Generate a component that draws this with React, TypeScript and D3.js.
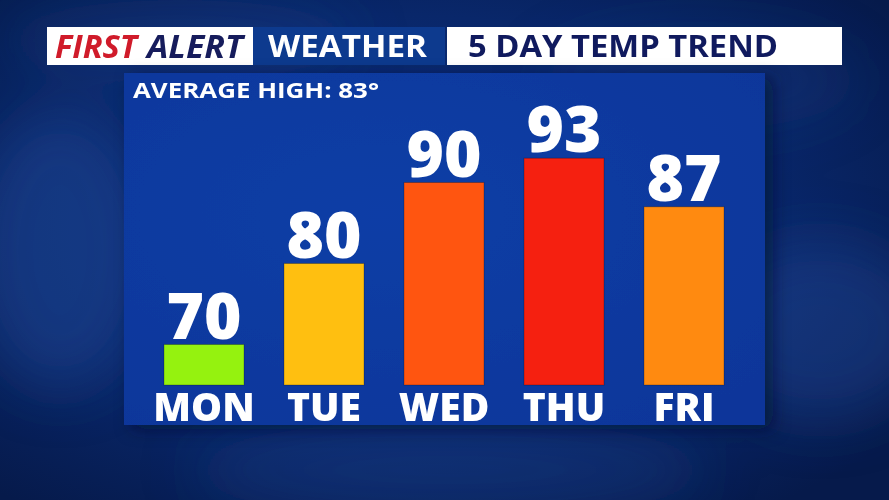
import { useRef, useEffect } from 'react';
import * as d3 from 'd3';

// chart data
const days = ['MON', 'TUE', 'WED', 'THU', 'FRI'];
const highs = [70, 80, 90, 93, 87];
const barColors = ['#95f20f', '#ffbf10', '#ff5510', '#f52010', '#ff8a10'];
const averageHigh = 83;

const W = 889;
const H = 500;

const App = () => {
    const ref = useRef<SVGSVGElement>(null);

    useEffect(() => {
        const svg = d3.select(ref.current);
        svg.selectAll('*').remove();
        svg.attr('viewBox', [0, 0, W, H]).attr('width', W).attr('height', H);

        const defs = svg.append('defs');
        const bg = defs.append('radialGradient').attr('id', 'bg-grad')
            .attr('cx', '45%').attr('cy', '45%').attr('r', '70%');
        bg.append('stop').attr('offset', '0%').attr('stop-color', '#0c3283');
        bg.append('stop').attr('offset', '60%').attr('stop-color', '#09276a');
        bg.append('stop').attr('offset', '100%').attr('stop-color', '#061a4b');

        const panelGrad = defs.append('radialGradient').attr('id', 'panel-grad')
            .attr('cx', '40%').attr('cy', '40%').attr('r', '75%');
        panelGrad.append('stop').attr('offset', '0%').attr('stop-color', '#0a3ea6');
        panelGrad.append('stop').attr('offset', '100%').attr('stop-color', '#07369a');

        const blur = defs.append('filter').attr('id', 'cloud-blur')
            .attr('x', '-50%').attr('y', '-50%').attr('width', '200%').attr('height', '200%');
        blur.append('feGaussianBlur').attr('stdDeviation', 28);

        const shadow = defs.append('filter').attr('id', 'panel-shadow')
            .attr('x', '-10%').attr('y', '-10%').attr('width', '130%').attr('height', '130%');
        shadow.append('feDropShadow').attr('dx', 8).attr('dy', 4)
            .attr('stdDeviation', 8).attr('flood-color', '#020c2a').attr('flood-opacity', 0.6);

        // background with soft clouds
        svg.append('rect').attr('width', W).attr('height', H).attr('fill', 'url(#bg-grad)');
        const clouds = [
            { cx: 60, cy: 250, rx: 90, ry: 140, o: 0.35 },
            { cx: 820, cy: 330, rx: 110, ry: 90, o: 0.3 },
            { cx: 450, cy: 470, rx: 260, ry: 50, o: 0.22 },
            { cx: 180, cy: 40, rx: 180, ry: 40, o: 0.2 },
            { cx: 700, cy: 80, rx: 160, ry: 50, o: 0.18 },
        ];
        svg.append('g').attr('filter', 'url(#cloud-blur)')
            .selectAll('ellipse').data(clouds).enter().append('ellipse')
            .attr('cx', d => d.cx).attr('cy', d => d.cy)
            .attr('rx', d => d.rx).attr('ry', d => d.ry)
            .attr('fill', '#2a55a8').attr('opacity', d => d.o);

        // header
        const header = svg.append('g').attr('font-family', "'Open Sans', sans-serif").attr('font-weight', 700);
        header.append('rect').attr('x', 47).attr('y', 27).attr('width', 206).attr('height', 38).attr('fill', '#ffffff');
        header.append('rect').attr('x', 253).attr('y', 27).attr('width', 192).attr('height', 38).attr('fill', '#0d3a8e');
        header.append('rect').attr('x', 447).attr('y', 27).attr('width', 395).attr('height', 38).attr('fill', '#ffffff');

        header.append('text').attr('x', 55).attr('y', 58)
            .attr('font-size', 33).attr('font-style', 'italic').attr('fill', '#d01b2a')
            .attr('textLength', 82).attr('lengthAdjust', 'spacingAndGlyphs')
            .text('FIRST');
        header.append('text').attr('x', 147).attr('y', 58)
            .attr('font-size', 33).attr('font-style', 'italic').attr('fill', '#161c5c')
            .attr('textLength', 96).attr('lengthAdjust', 'spacingAndGlyphs')
            .text('ALERT');

        header.append('text').attr('x', 268).attr('y', 57).attr('font-size', 31)
            .attr('fill', '#ffffff').attr('textLength', 159).attr('lengthAdjust', 'spacingAndGlyphs')
            .text('WEATHER');
        header.append('text').attr('x', 468).attr('y', 57).attr('font-size', 31)
            .attr('fill', '#101a5e').attr('textLength', 310).attr('lengthAdjust', 'spacingAndGlyphs')
            .text('5 DAY TEMP TREND');

        // chart panel
        const panel = { x: 124, y: 73, w: 641, h: 352 };
        svg.append('rect').attr('x', panel.x).attr('y', panel.y)
            .attr('width', panel.w).attr('height', panel.h)
            .attr('fill', 'url(#panel-grad)').attr('filter', 'url(#panel-shadow)');

        svg.append('text').attr('x', 133).attr('y', 98)
            .attr('font-family', "'Open Sans', sans-serif").attr('font-weight', 700)
            .attr('font-size', 22).attr('fill', '#ffffff')
            .attr('textLength', 246).attr('lengthAdjust', 'spacingAndGlyphs')
            .text(`AVERAGE HIGH: ${averageHigh}°`);

        const x = d3.scaleBand<string>()
            .domain(days)
            .range([144, 744])
            .paddingInner(1 / 3)
            .paddingOuter(1 / 6);

        const y = d3.scaleLinear()
            .domain([65, 95])
            .range([385, 142]);

        const rows = days.map((d, i) => ({ day: d, value: highs[i], color: barColors[i] }));

        const g = svg.append('g');
        g.selectAll('rect.bar').data(rows).enter().append('rect')
            .attr('class', 'bar')
            .attr('x', d => x(d.day) ?? 0)
            .attr('y', d => y(d.value))
            .attr('width', x.bandwidth())
            .attr('height', d => y(65) - y(d.value))
            .attr('fill', d => d.color)
            .attr('stroke', 'rgba(0,0,0,0.25)').attr('stroke-width', 1);

        g.selectAll('text.value').data(rows).enter().append('text')
            .attr('class', 'value')
            .attr('x', d => (x(d.day) ?? 0) + x.bandwidth() / 2)
            .attr('y', d => y(d.value) - 6)
            .attr('text-anchor', 'middle')
            .attr('font-family', "'Open Sans', sans-serif").attr('font-weight', 800)
            .attr('font-size', 64).attr('fill', '#ffffff')
            .text(d => d.value);

        // day axis
        const axis = svg.append('g')
            .attr('transform', `translate(0, ${y(65)})`)
            .call(d3.axisBottom(x).tickSize(0).tickPadding(0));
        axis.select('.domain').remove();
        axis.selectAll('.tick text')
            .attr('dy', 36)
            .attr('font-family', "'Open Sans', sans-serif").attr('font-weight', 800)
            .attr('font-size', 39).attr('fill', '#ffffff');
    }, []);

    return (
        <div style={{ position: 'absolute', left: 0, top: 0 }}>
            <svg ref={ref} style={{ display: 'block' }}></svg>
        </div>
    );
};

export default App;
